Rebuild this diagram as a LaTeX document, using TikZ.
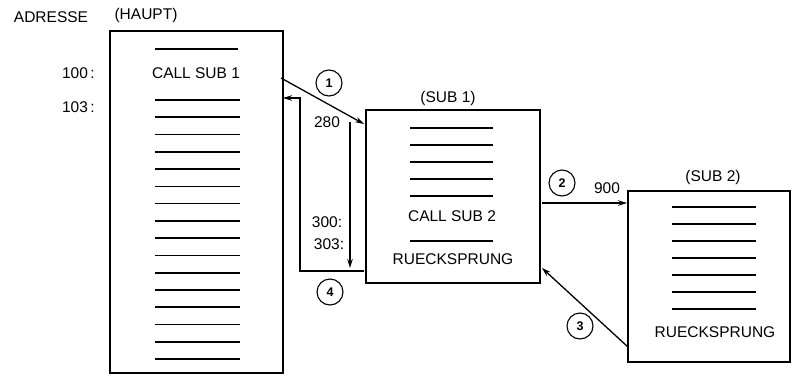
\documentclass[tikz,border=0pt]{standalone}
\usepackage{fontspec}
\setmainfont{Liberation Sans}
\usetikzlibrary{arrows.meta,calc}
\begin{document}
\begin{tikzpicture}[x=1pt,y=-1pt,
  box/.style={draw,line width=1.6pt,inner sep=0pt,outer sep=0pt,anchor=north west},
  rule/.style={line width=1.6pt},
  conn/.style={line width=1.3pt,-{Stealth[length=9pt,width=5.5pt]}},
  num/.style={draw,circle,line width=1.1pt,minimum size=26pt,inner sep=0pt,font=\fontsize{12.5}{12.5}\selectfont\bfseries},
  lbl/.style={font=\fontsize{15.5}{15.5}\selectfont,inner sep=0pt}]
\useasboundingbox (0,0) rectangle (794,375);

% boxes
\node[box,minimum width=173pt,minimum height=342pt] (main) at (110,31) {};
\node[box,minimum width=174pt,minimum height=173pt] (sub1) at (366,110) {};
\node[box,minimum width=162pt,minimum height=171pt] (sub2) at (628,191) {};

% header labels
\node[lbl] (adr) at (51,17) {ADRESSE};
\node[lbl] (haupt) at (146,15) {(HAUPT)};
\node[lbl] (s1lbl) at (448,98) {(SUB 1)};
\node[lbl] (s2lbl) at (713,177) {(SUB 2)};

% main box contents
\draw[rule] (155,49) -- (238,49);
\node[lbl] (call1) at (196,73) {CALL SUB 1};
\foreach \i in {0,...,15}{
  \draw[rule] (155,{100+17.27*\i}) -- (240,{100+17.27*\i});
}
\node[lbl,anchor=east] (a100) at (95,73) {100\,:};
\node[lbl,anchor=east] (a103) at (95,107) {103\,:};

% sub1 contents
\foreach \y in {128,145,162,179,196,241}{
  \draw[rule] (410,\y) -- (493,\y);
}
\node[lbl] (call2) at (452,216) {CALL SUB 2};
\node[lbl] (rs1) at (453,259) {RUECKSPRUNG};
\node[lbl] (a280) at (327,122) {280};
\node[lbl] (a300) at (327,222) {300:};
\node[lbl] (a303) at (329,244) {303:};

% sub2 contents
\foreach \i in {0,...,6}{
  \draw[rule] (672,{207+17*\i}) -- (756,{207+17*\i});
}
\node[lbl] (rs2) at (715,332) {RUECKSPRUNG};
\node[lbl] (a900) at (607,188) {900};

% connector coordinates
\coordinate (c1s) at (281,78);
\coordinate (c1e) at (364,124);
\coordinate (vs) at (350,122);
\coordinate (ve) at (350,268);
\coordinate (r4s) at (364,271);
\coordinate (r4a) at (300,271);
\coordinate (r4b) at (300,98);
\coordinate (r4e) at (283,98);
\coordinate (c2s) at (542,203);
\coordinate (c2e) at (627,203);
\coordinate (c3s) at (628,347);
\coordinate (c3e) at (542,268);

\draw[conn] (c1s) -- (c1e);
\draw[conn] (vs) -- (ve);
\draw[conn] (r4s) -- (r4a) -- (r4b) -- (r4e);
\draw[conn] (c2s) -- (c2e);
\draw[conn] (c3s) -- (c3e);

% numbered circles
\node[num] (n1) at (329,83) {1};
\node[num] (n2) at (562,183) {2};
\node[num] (n3) at (580,326) {3};
\node[num] (n4) at (330,292) {4};
\end{tikzpicture}
\end{document}
